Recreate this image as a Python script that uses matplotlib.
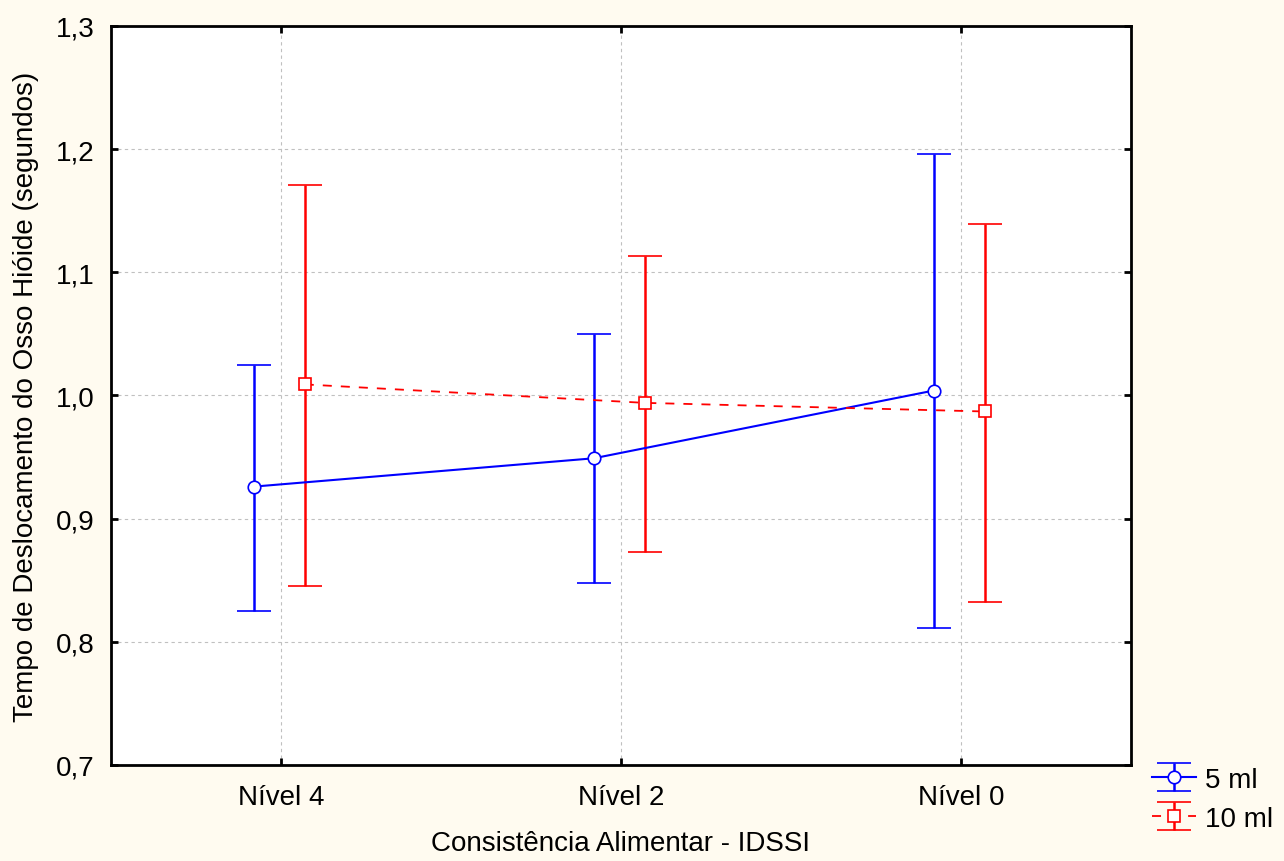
import matplotlib.pyplot as plt
from matplotlib.ticker import FuncFormatter

categories = ['Nível 4', 'Nível 2', 'Nível 0']

mean_5ml = [0.926, 0.949, 1.004]
low_5ml = [0.825, 0.848, 0.811]
high_5ml = [1.025, 1.050, 1.196]

mean_10ml = [1.009, 0.994, 0.987]
low_10ml = [0.845, 0.873, 0.832]
high_10ml = [1.171, 1.113, 1.139]

plt.rcParams['font.family'] = ['Liberation Sans', 'DejaVu Sans']

fig = plt.figure(figsize=(12.84, 8.62), dpi=100, facecolor='#fffbf0')
ax = fig.add_axes([0.0864, 0.1114, 0.7944, 0.8573])
ax.set_facecolor('white')

x = list(range(len(categories)))
x5 = [i - 0.08 for i in x]
x10 = [i + 0.07 for i in x]

err5 = [[m - l for m, l in zip(mean_5ml, low_5ml)], [h - m for m, h in zip(mean_5ml, high_5ml)]]
err10 = [[m - l for m, l in zip(mean_10ml, low_10ml)], [h - m for m, h in zip(mean_10ml, high_10ml)]]

ax.errorbar(x5, mean_5ml, yerr=err5, color='#0000ff', lw=1.5, ls='-',
            marker='o', ms=9, mfc='white', mec='#0000ff', mew=1.2,
            capsize=12, capthick=1.8, elinewidth=1.8, label='5 ml', zorder=3)
ax.errorbar(x10, mean_10ml, yerr=err10, color='#ff0000', lw=1.3, ls=(0, (5, 5)),
            marker='s', ms=9, mfc='white', mec='#ff0000', mew=1.2,
            capsize=12, capthick=1.8, elinewidth=1.8, label='10 ml', zorder=3)

ax.set_xlim(-0.5, 2.5)
ax.set_ylim(0.7, 1.3)
ax.set_xticks(x)
ax.set_xticklabels(categories)
ax.set_yticks([0.7, 0.8, 0.9, 1.0, 1.1, 1.2, 1.3])
ax.yaxis.set_major_formatter(FuncFormatter(lambda v, p: f'{v:.1f}'.replace('.', ',')))
ax.grid(True, color='#c0c0c0', ls=(0, (3, 3)), lw=0.8)
ax.set_axisbelow(True)
ax.tick_params(direction='in', length=5, width=2, top=True, right=True, labelsize=20)
ax.tick_params(axis='y', pad=12)
ax.tick_params(axis='x', pad=14)
for s in ax.spines.values():
    s.set_linewidth(2)

ax.set_xlabel('Consistência Alimentar - IDSSI', fontsize=20, labelpad=14)
ax.set_ylabel('Tempo de Deslocamento do Osso Hióide (segundos)', fontsize=20, labelpad=12)

fig.legend(loc='upper left', bbox_to_anchor=(1152 / 1284, 1 - 768 / 862), frameon=False,
           fontsize=20, handlelength=1.6, handleheight=0.8, handletextpad=0.3,
           labelspacing=0.45, borderpad=0, borderaxespad=0)

fig.savefig('out.png', dpi=100, facecolor=fig.get_facecolor())
